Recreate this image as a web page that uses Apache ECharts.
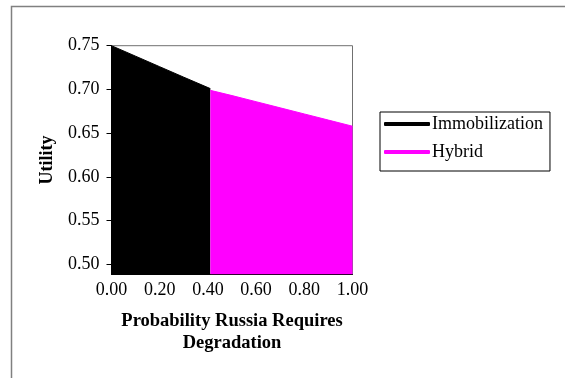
<!DOCTYPE html>
<html>
<head>
<meta charset="utf-8">
<script src="https://cdn.jsdelivr.net/npm/echarts@6/dist/echarts.min.js"></script>
<style>
    html, body { margin: 0; padding: 0; background: #fff; }
    #chart { width: 565px; height: 378px; }
</style>
</head>
<body>
<div id="chart"></div>
<script>
// values
var immobX = [0, 0.1, 0.2, 0.3, 0.41];
var immobY = [0.750, 0.738, 0.726, 0.714, 0.701];
var hybridX = [0.41, 0.5, 0.6, 0.7, 0.8, 0.9, 1.0];
var hybridY = [0.699, 0.693, 0.686, 0.679, 0.672, 0.665, 0.658];
var yTicks = [0.50, 0.55, 0.60, 0.65, 0.70, 0.75];
var seriesNames = ['Immobilization', 'Hybrid'];

var fontFamily = "'Liberation Serif', 'Times New Roman', serif";

function pairs(xs, ys) {
    var out = [];
    xs.forEach(function (x, i) {
        out.push([x, ys[i]]);
    });
    return out;
}

var myChart = echarts.init(document.getElementById('chart'));

var option = {
    backgroundColor: '#fff',
    animation: false,
    textStyle: {fontFamily: fontFamily, color: '#000'},
    graphic: [{
        type: 'rect',
        shape: {x: 11.5, y: 6.5, width: 620, height: 420},
        style: {fill: 'none', stroke: '#808080', lineWidth: 1.5}
    }],
    grid: {
        left: 111.5,
        right: 212.5,
        top: 45.7,
        bottom: 103.7,
        show: true,
        borderColor: '#707070',
        borderWidth: 1,
        backgroundColor: '#fff'
    },
    legend: {
        orient: 'vertical',
        left: 380,
        top: 112,
        data: seriesNames,
        icon: 'roundRect',
        itemWidth: 46,
        itemHeight: 4,
        itemGap: 10,
        padding: [3, 7, 10, 4],
        borderColor: '#000',
        borderWidth: 1,
        textStyle: {fontFamily: fontFamily, fontSize: 18, color: '#000', padding: [0, 0, 0, -3]}
    },
    xAxis: {
        type: 'value',
        min: 0,
        max: 1,
        interval: 0.2,
        name: 'Probability Russia Requires\nDegradation',
        nameLocation: 'middle',
        nameGap: 36,
        nameTextStyle: {fontFamily: fontFamily, fontSize: 18.5, fontWeight: 'bold', lineHeight: 22, color: '#000'},
        axisLine: {show: true, lineStyle: {color: '#000'}},
        axisTick: {show: false},
        splitLine: {show: false},
        axisLabel: {
            margin: 7,
            fontSize: 18,
            color: '#000',
            fontFamily: fontFamily,
            formatter: function (v) { return v.toFixed(2); }
        }
    },
    yAxis: {
        type: 'value',
        min: 0.4888,
        max: 0.75,
        name: 'Utility',
        nameLocation: 'middle',
        nameGap: 55,
        nameTextStyle: {fontFamily: fontFamily, fontSize: 18, fontWeight: 'bold', color: '#000'},
        axisLine: {show: true, lineStyle: {color: '#000'}},
        axisTick: {show: true, length: 5, customValues: yTicks, lineStyle: {color: '#000'}},
        splitLine: {show: false},
        axisLabel: {
            margin: 12,
            fontSize: 18,
            color: '#000',
            fontFamily: fontFamily,
            customValues: yTicks,
            formatter: function (v) { return v.toFixed(2); }
        }
    },
    series: [
        {
            name: seriesNames[0],
            type: 'line',
            data: pairs(immobX, immobY),
            showSymbol: false,
            itemStyle: {color: '#000'},
            lineStyle: {color: '#000', width: 1},
            areaStyle: {color: '#000', opacity: 1, origin: 'start'}
        },
        {
            name: seriesNames[1],
            type: 'line',
            data: pairs(hybridX, hybridY),
            showSymbol: false,
            itemStyle: {color: '#FF00FF'},
            lineStyle: {color: '#FF00FF', width: 1},
            areaStyle: {color: '#FF00FF', opacity: 1, origin: 'start'}
        }
    ]
};
myChart.setOption(option);
</script>
</body>
</html>
